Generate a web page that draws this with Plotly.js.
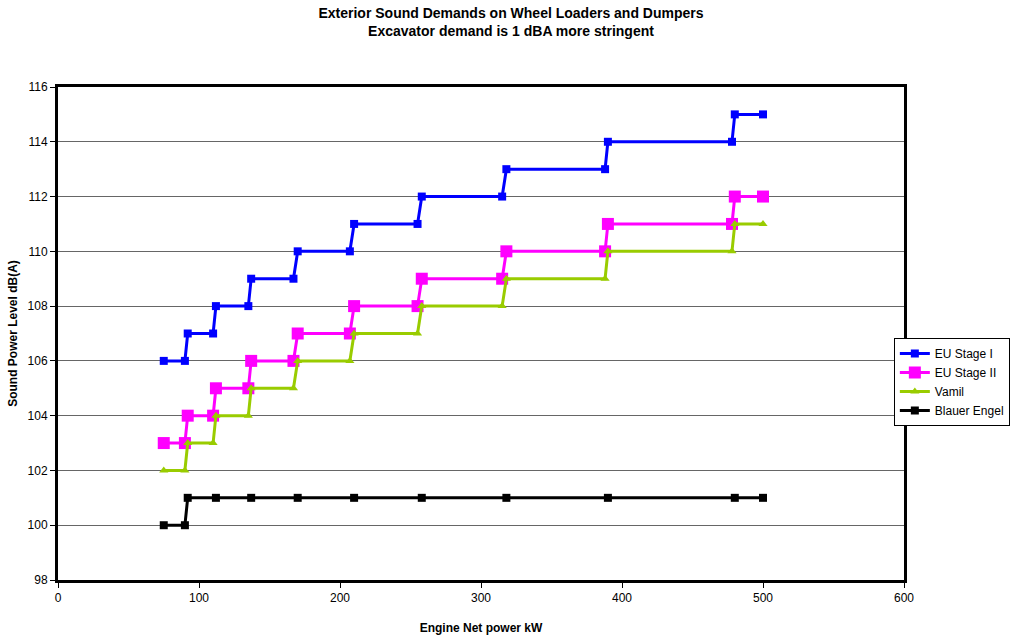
<!DOCTYPE html>
<html>
<head>
<meta charset="utf-8">
<script src="https://cdn.plot.ly/plotly-3.0.1.min.js"></script>
<style>html,body{margin:0;padding:0;background:#fff;}#chart{width:1022px;height:642px;}</style>
</head>
<body>
<div id="chart"></div>
<script>
const stepX = [75, 90, 92, 110, 112, 135, 137, 167, 170, 207, 210, 255, 258, 315, 318, 388, 390, 478, 480, 500];
const euStage1 = [106, 106, 107, 107, 108, 108, 109, 109, 110, 110, 111, 111, 112, 112, 113, 113, 114, 114, 115, 115];
const euStage2 = [103, 103, 104, 104, 105, 105, 106, 106, 107, 107, 108, 108, 109, 109, 110, 110, 111, 111, 112, 112];
const vamil    = [102, 102, 103, 103, 104, 104, 105, 105, 106, 106, 107, 107, 108, 108, 109, 109, 110, 110, 111, 111];
const blauerX  = [75, 90, 92, 112, 137, 170, 210, 258, 318, 390, 480, 500];
const blauer   = [100, 100, 101, 101, 101, 101, 101, 101, 101, 101, 101, 101];
const yTicks = [98, 100, 102, 104, 106, 108, 110, 112, 114, 116];
const xTicks = [0, 100, 200, 300, 400, 500, 600];

const font = 'Liberation Sans, Arial, sans-serif';
const traces = [
  {x: stepX, y: euStage1, name: 'EU Stage I', mode: 'lines+markers',
   line: {color: '#0000FF', width: 3}, marker: {symbol: 'square', size: 8, color: '#0000FF'}},
  {x: stepX, y: euStage2, name: 'EU Stage II', mode: 'lines+markers',
   line: {color: '#FF00FF', width: 3}, marker: {symbol: 'square', size: 12, color: '#FF00FF'}},
  {x: stepX, y: vamil, name: 'Vamil', mode: 'lines+markers',
   line: {color: '#99CC00', width: 3}, marker: {symbol: 'triangle-up', size: 8, color: '#99CC00'}},
  {x: blauerX, y: blauer, name: 'Blauer Engel', mode: 'lines+markers',
   line: {color: '#000000', width: 3}, marker: {symbol: 'square', size: 8, color: '#000000'}}
];

const layout = {
  width: 1022, height: 642,
  margin: {l: 58, r: 116, t: 87, b: 62},
  paper_bgcolor: '#fff', plot_bgcolor: '#fff',
  font: {family: font, size: 12, color: '#000'},
  title: {text: '<b>Exterior Sound Demands on Wheel Loaders and Dumpers<br>Excavator demand is 1 dBA more stringent</b>',
          font: {family: font, size: 14, color: '#000'}, x: 0.5, xanchor: 'center', y: 0.972, yanchor: 'top'},
  xaxis: {range: [0, 600], tickvals: xTicks, ticktext: xTicks.map(String), showgrid: false, zeroline: false,
          showline: true, linecolor: '#000', linewidth: 3, mirror: true,
          ticks: 'outside', ticklen: 5, tickcolor: '#000', tickwidth: 1,
          tickfont: {family: font, size: 12, color: '#000'},
          title: {text: '<b>Engine Net power kW</b>', font: {family: font, size: 12, color: '#000'}, standoff: 20}},
  yaxis: {range: [98, 116], tickvals: yTicks, ticktext: yTicks.map(String), showgrid: true, gridcolor: '#666', gridwidth: 1,
          zeroline: false, showline: true, linecolor: '#000', linewidth: 3, mirror: true,
          ticks: 'outside', ticklen: 5, tickcolor: '#000', tickwidth: 1,
          tickfont: {family: font, size: 12, color: '#000'},
          title: {text: '<b>Sound Power Level dB(A)</b>', font: {family: font, size: 12, color: '#000'}, standoff: 8}},
  legend: {x: 0.988, y: 0.491, xanchor: 'left', yanchor: 'top', bgcolor: '#fff', bordercolor: '#000', borderwidth: 1,
           font: {family: font, size: 12, color: '#000'}, itemwidth: 30, tracegroupgap: 0},
  showlegend: true
};

Plotly.newPlot('chart', traces, layout, {displayModeBar: false, staticPlot: true});
</script>
</body>
</html>
